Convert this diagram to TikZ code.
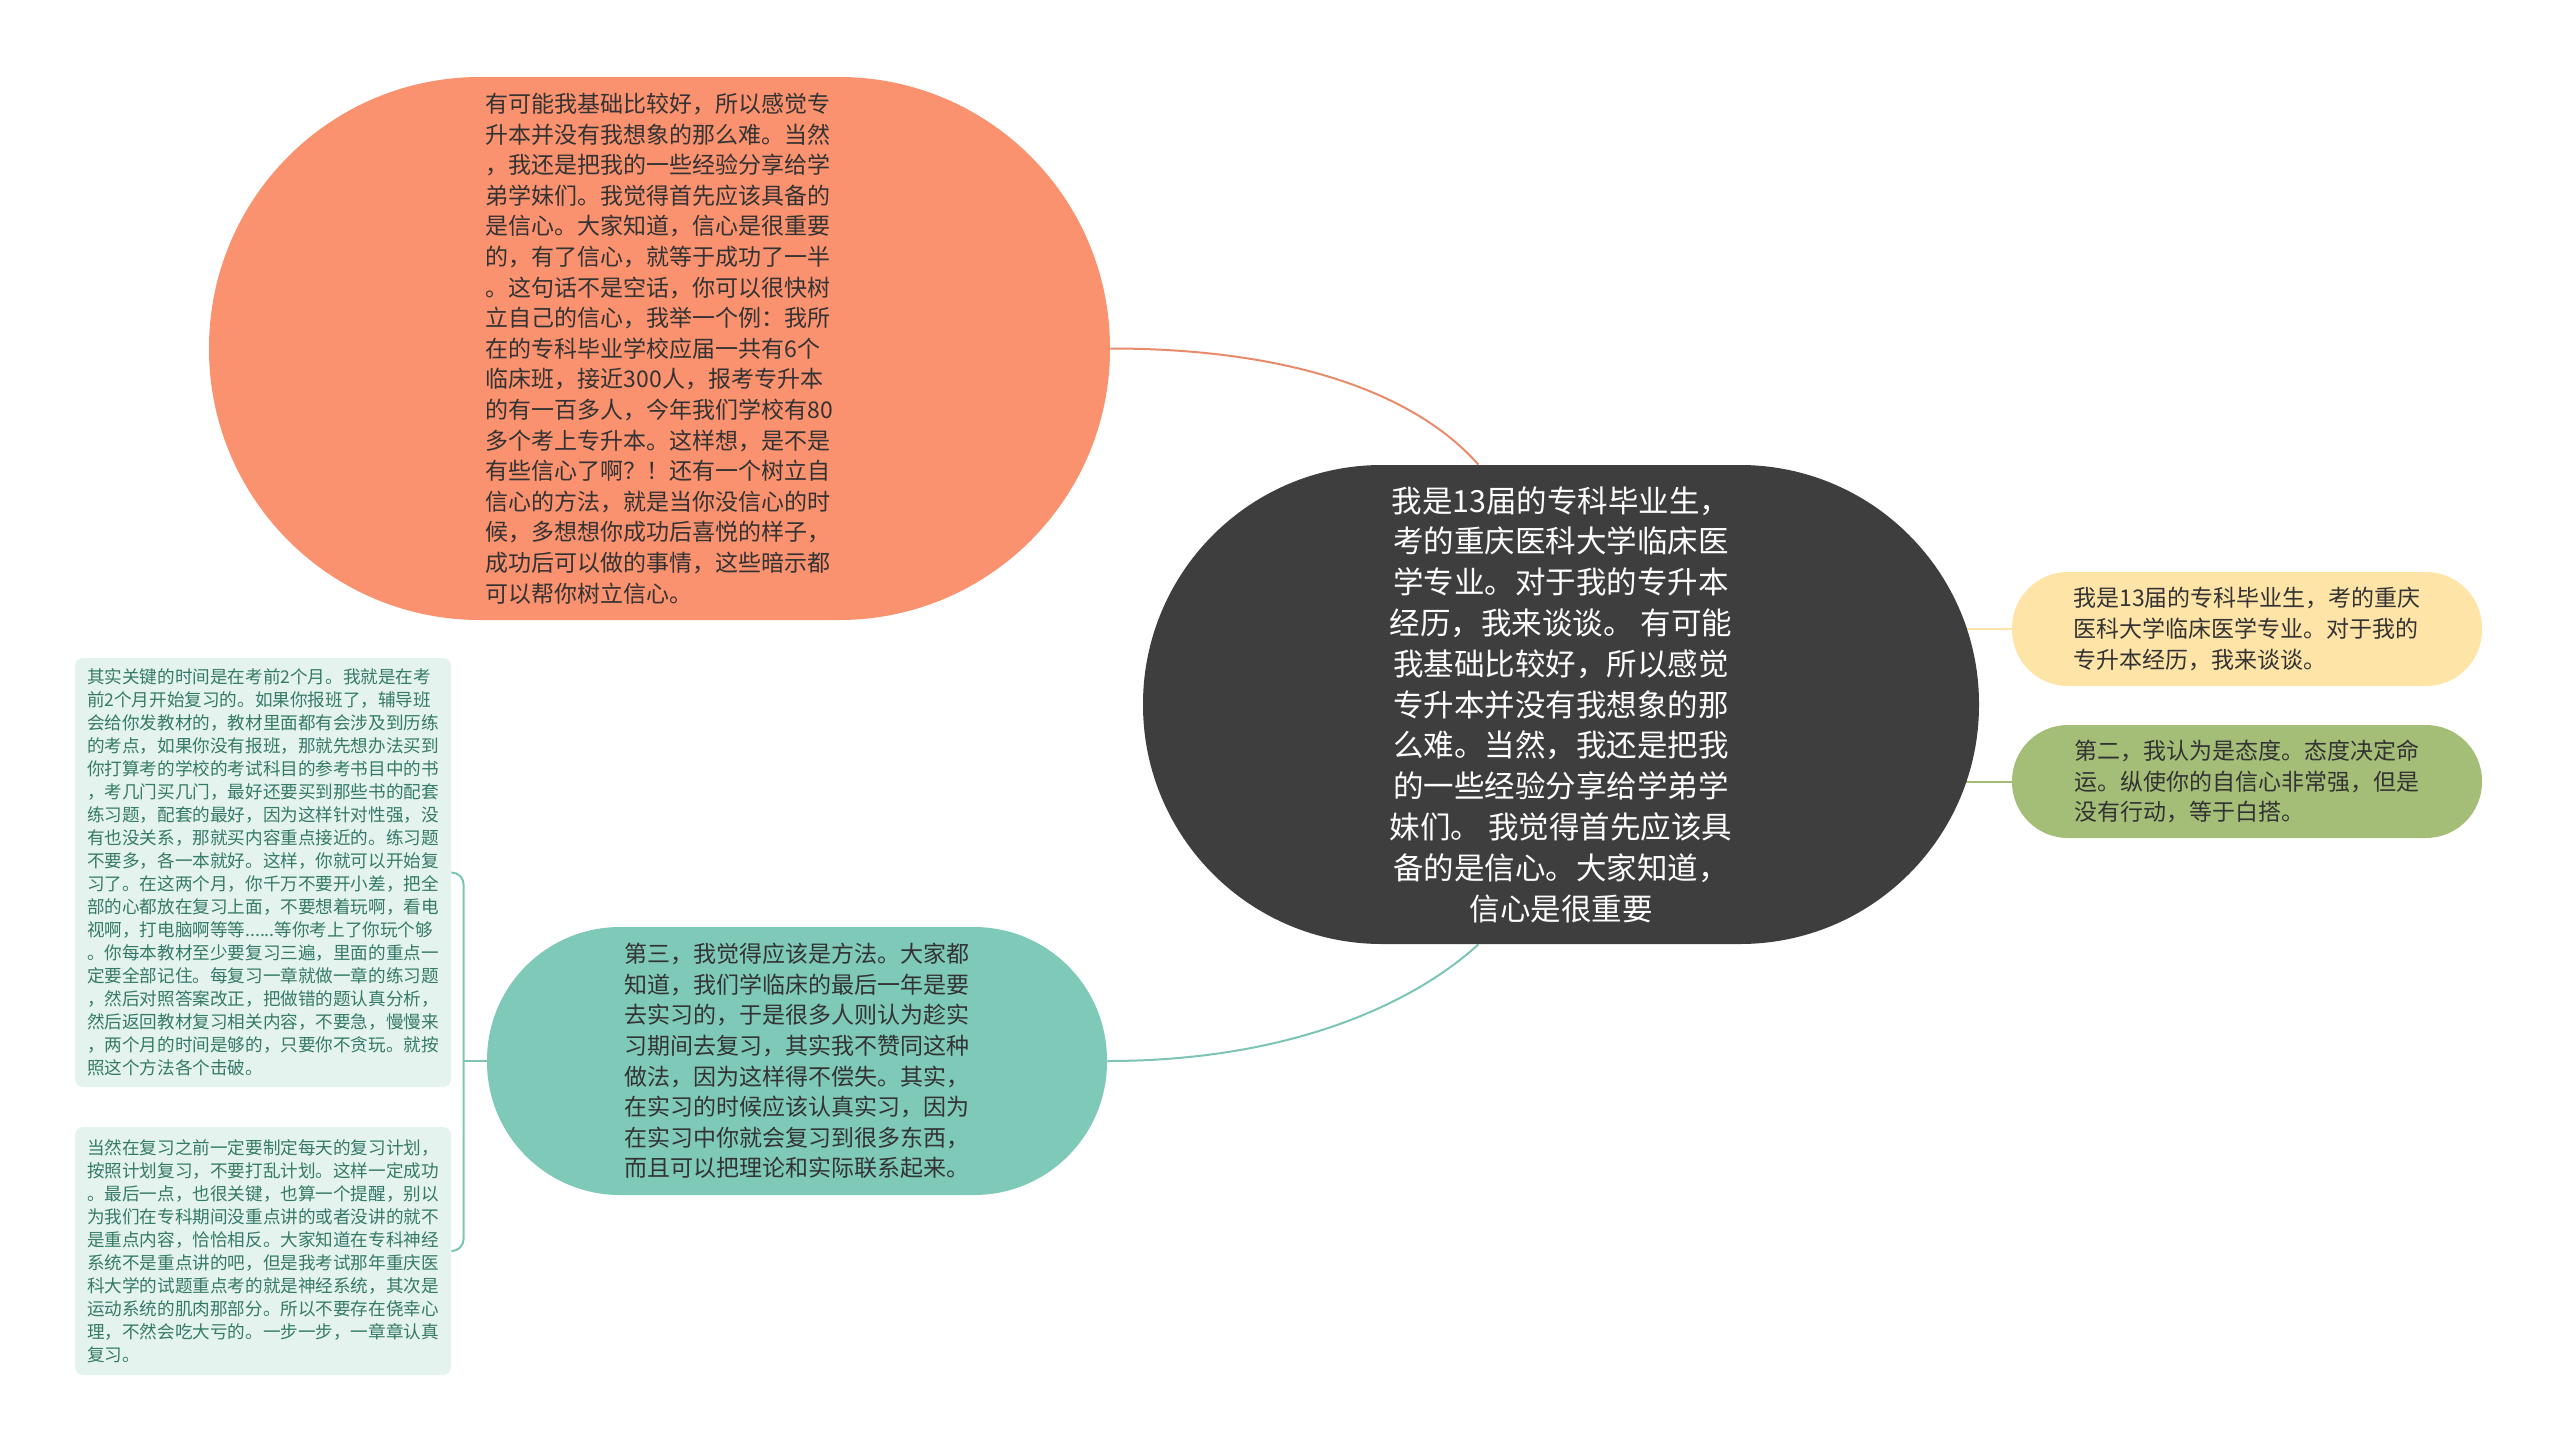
\documentclass[tikz,border=0pt]{standalone}
\usepackage{fontspec}
\setmainfont{Noto Sans CJK SC}
\usetikzlibrary{backgrounds}
\definecolor{orng}{HTML}{FA916F}
\definecolor{orngl}{HTML}{E98B6B}
\definecolor{dark}{HTML}{3E3E3E}
\definecolor{yell}{HTML}{FFE4A8}
\definecolor{yelll}{HTML}{FDE3A7}
\definecolor{grn}{HTML}{A4BE78}
\definecolor{grnl}{HTML}{A2BB76}
\definecolor{teal}{HTML}{7FC9B9}
\definecolor{teall}{HTML}{7CC5B4}
\definecolor{mint}{HTML}{E4F3EE}
\definecolor{minttxt}{HTML}{357A66}
\definecolor{txt}{HTML}{333333}

\begin{document}
\begin{tikzpicture}[x=0.5pt,y=-0.5pt,
bub/.style={rectangle,align=left,inner sep=0pt,text=txt,font=\fontsize{11.5pt}{15.3pt}\selectfont},
tip/.style={rectangle,align=left,inner sep=0pt,fill=mint,text=minttxt,rounded corners=4pt,
  minimum width=188pt,font=\fontsize{8.8pt}{11.5pt}\selectfont},
lnk/.style={line width=1pt}]
\useasboundingbox(0,0) rectangle (2560,1451);

\node[rectangle,align=center,inner sep=0pt,fill=dark,text=white,minimum width=418pt,minimum height=239.5pt,
  rounded corners=119.5pt,font=\fontsize{15.25pt}{20.4pt}\selectfont] (root) at (1561,704.5)
{我是13届的专科毕业生，\\考的重庆医科大学临床医\\学专业。对于我的专升本\\经历，我来谈谈。 有可能\\我基础比较好，所以感觉\\专升本并没有我想象的那\\么难。当然，我还是把我\\的一些经验分享给学弟学\\妹们。 我觉得首先应该具\\备的是信心。大家知道，\\信心是很重要};

\node[bub,fill=orng,minimum width=450.5pt,minimum height=271.5pt,rounded corners=135.5pt] (exp) at (659.5,348.5)
{有可能我基础比较好，所以感觉专\\升本并没有我想象的那么难。当然\\，我还是把我的一些经验分享给学\\弟学妹们。我觉得首先应该具备的\\是信心。大家知道，信心是很重要\\的，有了信心，就等于成功了一半\\。这句话不是空话，你可以很快树\\立自己的信心，我举一个例：我所\\在的专科毕业学校应届一共有6个\\临床班，接近300人，报考专升本\\的有一百多人，今年我们学校有80\\多个考上专升本。这样想，是不是\\有些信心了啊？！还有一个树立自\\信心的方法，就是当你没信心的时\\候，多想想你成功后喜悦的样子，\\成功后可以做的事情，这些暗示都\\可以帮你树立信心。};

\node[bub,fill=yell,minimum width=235pt,minimum height=57pt,rounded corners=28pt] (intro) at (2247,629)
{我是13届的专科毕业生，考的重庆\\医科大学临床医学专业。对于我的\\专升本经历，我来谈谈。};

\node[bub,fill=grn,minimum width=235pt,minimum height=56.5pt,rounded corners=28pt] (att) at (2247,781.5)
{第二，我认为是态度。态度决定命\\运。纵使你的自信心非常强，但是\\没有行动，等于白搭。};

\node[bub,fill=teal,minimum width=310pt,minimum height=134pt,rounded corners=66.5pt] (way) at (797,1061)
{第三，我觉得应该是方法。大家都\\知道，我们学临床的最后一年是要\\去实习的，于是很多人则认为趁实\\习期间去复习，其实我不赞同这种\\做法，因为这样得不偿失。其实，\\在实习的时候应该认真实习，因为\\在实习中你就会复习到很多东西，\\而且可以把理论和实际联系起来。};

\node[tip,minimum height=214.5pt] (tip1) at (263,872.5)
{其实关键的时间是在考前2个月。我就是在考\\前2个月开始复习的。如果你报班了，辅导班\\会给你发教材的，教材里面都有会涉及到历练\\的考点，如果你没有报班，那就先想办法买到\\你打算考的学校的考试科目的参考书目中的书\\，考几门买几门，最好还要买到那些书的配套\\练习题，配套的最好，因为这样针对性强，没\\有也没关系，那就买内容重点接近的。练习题\\不要多，各一本就好。这样，你就可以开始复\\习了。在这两个月，你千万不要开小差，把全\\部的心都放在复习上面，不要想着玩啊，看电\\视啊，打电脑啊等等......等你考上了你玩个够\\。你每本教材至少要复习三遍，里面的重点一\\定要全部记住。每复习一章就做一章的练习题\\，然后对照答案改正，把做错的题认真分析，\\然后返回教材复习相关内容，不要急，慢慢来\\，两个月的时间是够的，只要你不贪玩。就按\\照这个方法各个击破。};

\node[tip,minimum height=124pt] (tip2) at (263,1251)
{当然在复习之前一定要制定每天的复习计划，\\按照计划复习，不要打乱计划。这样一定成功\\。最后一点，也很关键，也算一个提醒，别以\\为我们在专科期间没重点讲的或者没讲的就不\\是重点内容，恰恰相反。大家知道在专科神经\\系统不是重点讲的吧，但是我考试那年重庆医\\科大学的试题重点考的就是神经系统，其次是\\运动系统的肌肉那部分。所以不要存在侥幸心\\理，不然会吃大亏的。一步一步，一章章认真\\复习。};

\begin{pgfonlayer}{background}
\draw[lnk,draw=orngl](exp.east) .. controls +(192,0) and +(-58,-66) .. (root.109);
\draw[lnk,draw=teall](way.east) .. controls +(190,0) and +(-60,55) .. (root.251);
\draw[lnk,draw=yelll](intro.west)--(intro.west -| root.center);
\draw[lnk,draw=grnl](att.west)--(att.west -| root.center);
\draw[lnk,draw=teall](way.west)--++(-23,0) coordinate (fork);
\draw[lnk,draw=teall,rounded corners=6pt](tip1.east)--(fork |- tip1.east)--(fork |- tip2.east)--(tip2.east);
\end{pgfonlayer}

\end{tikzpicture}
\end{document}
